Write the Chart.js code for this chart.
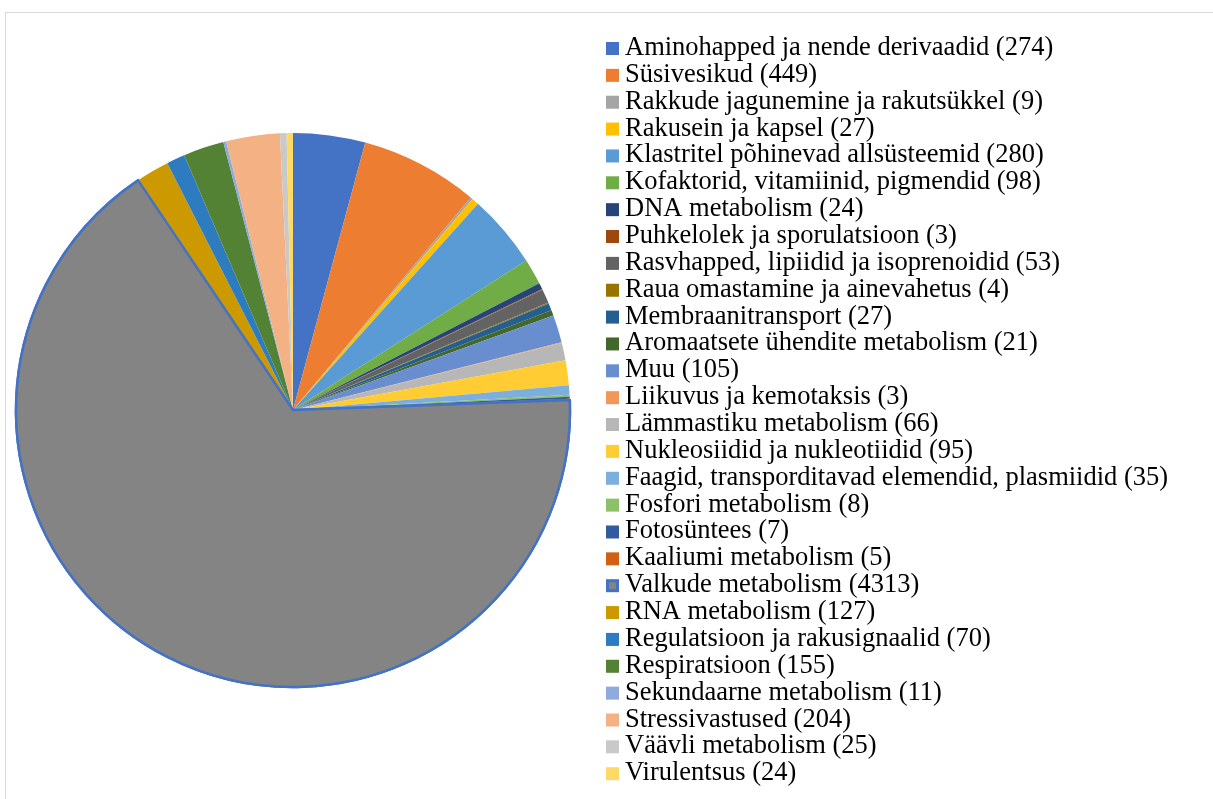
<!DOCTYPE html>
<html lang="et">
<head>
<meta charset="utf-8">
<title>Geenide jaotus funktsionaalsetesse kategooriatesse</title>
<script src="https://cdn.jsdelivr.net/npm/chart.js@4/dist/chart.umd.min.js"></script>
<style>
  html, body { margin: 0; padding: 0; background: #ffffff; overflow: hidden; }
  #wrap { position: relative; width: 1213px; height: 799px; }
  #frame {
    position: absolute; left: 5px; top: 12px; width: 1400px; height: 1000px;
    border: 1px solid #d9d9d9; box-sizing: border-box;
  }
  #pie { position: absolute; left: 0; top: 0; }
</style>
</head>
<body>
<div id="wrap">
  <div id="frame"></div>
  <canvas id="pie" width="1213" height="799"></canvas>
</div>
<script>
// Functional categories and number of genes in each
const categories = [
  "Aminohapped ja nende derivaadid",
  "Süsivesikud",
  "Rakkude jagunemine ja rakutsükkel",
  "Rakusein ja kapsel",
  "Klastritel põhinevad allsüsteemid",
  "Kofaktorid, vitamiinid, pigmendid",
  "DNA metabolism",
  "Puhkelolek ja sporulatsioon",
  "Rasvhapped, lipiidid ja isoprenoidid",
  "Raua omastamine ja ainevahetus",
  "Membraanitransport",
  "Aromaatsete ühendite metabolism",
  "Muu",
  "Liikuvus ja kemotaksis",
  "Lämmastiku metabolism",
  "Nukleosiidid ja nukleotiidid",
  "Faagid, transporditavad elemendid, plasmiidid",
  "Fosfori metabolism",
  "Fotosüntees",
  "Kaaliumi metabolism",
  "Valkude metabolism",
  "RNA metabolism",
  "Regulatsioon ja rakusignaalid",
  "Respiratsioon",
  "Sekundaarne metabolism",
  "Stressivastused",
  "Väävli metabolism",
  "Virulentsus"
];

const geneCounts = [
  274, 449, 9, 27, 280, 98, 24, 3, 53, 4, 27, 21, 105, 3,
  66, 95, 35, 8, 7, 5, 4313, 127, 70, 155, 11, 204, 25, 24
];

const sliceColors = [
  "#4472C4", "#ED7D31", "#A5A5A5", "#FFC000", "#5B9BD5", "#70AD47",
  "#264478", "#9E480E", "#636363", "#997300", "#255E91", "#43682B",
  "#698ED0", "#F1975A", "#B7B7B7", "#FFCD33", "#7CAFDD", "#8CC168",
  "#335AA1", "#D26012", "#848484", "#CC9A00", "#2E7CC0", "#548235",
  "#8FAADC", "#F4B183", "#C9C9C9", "#FFD966"
];

// The largest slice is drawn with an outline
const outlinedIndex = categories.indexOf("Valkude metabolism");
const outlineColor = "#4472C4";

const legendLabels = categories.map((name, i) => `${name} (${geneCounts[i]})`);

// Legend list drawn to the right of the pie
const sideLegend = {
  id: "sideLegend",
  afterDraw(chart) {
    const ctx = chart.ctx;
    const x0 = 606, y0 = 55, step = 26.86, box = 13;
    ctx.save();
    ctx.textBaseline = "alphabetic";
    ctx.textAlign = "left";
    ctx.font = "26.5px 'Liberation Serif', 'Times New Roman', serif";
    legendLabels.forEach((text, i) => {
      const base = y0 + i * step;
      const color = chart.data.datasets[0].backgroundColor[i];
      if (i === outlinedIndex) {
        ctx.fillStyle = outlineColor;
        ctx.fillRect(x0, base - box, box, box);
        ctx.fillStyle = color;
        ctx.fillRect(x0 + 3, base - box + 3, box - 6, box - 6);
      } else {
        ctx.fillStyle = color;
        ctx.fillRect(x0, base - box, box, box);
      }
      ctx.fillStyle = "#000000";
      ctx.fillText(text, 625, base);
    });
    ctx.restore();
  }
};

// Redraw the outlined slice last so its border sits on top of neighbours
const outlineOnTop = {
  id: "outlineOnTop",
  afterDatasetsDraw(chart) {
    const arc = chart.getDatasetMeta(0).data[outlinedIndex];
    if (arc) arc.draw(chart.ctx, chart.chartArea);
  }
};

new Chart(document.getElementById("pie"), {
  type: "pie",
  data: {
    labels: legendLabels,
    datasets: [{
      data: geneCounts,
      backgroundColor: sliceColors,
      borderColor: categories.map((_, i) => i === outlinedIndex ? outlineColor : "#ffffff"),
      borderWidth: categories.map((_, i) => i === outlinedIndex ? 2.5 : 0),
      borderJoinStyle: "round",
      radius: 277
    }]
  },
  options: {
    responsive: false,
    animation: false,
    devicePixelRatio: 1,
    layout: { padding: { left: 16, top: 133, right: 643, bottom: 112 } },
    plugins: {
      legend: { display: false },
      tooltip: { enabled: false }
    }
  },
  plugins: [outlineOnTop, sideLegend]
});
</script>
</body>
</html>
